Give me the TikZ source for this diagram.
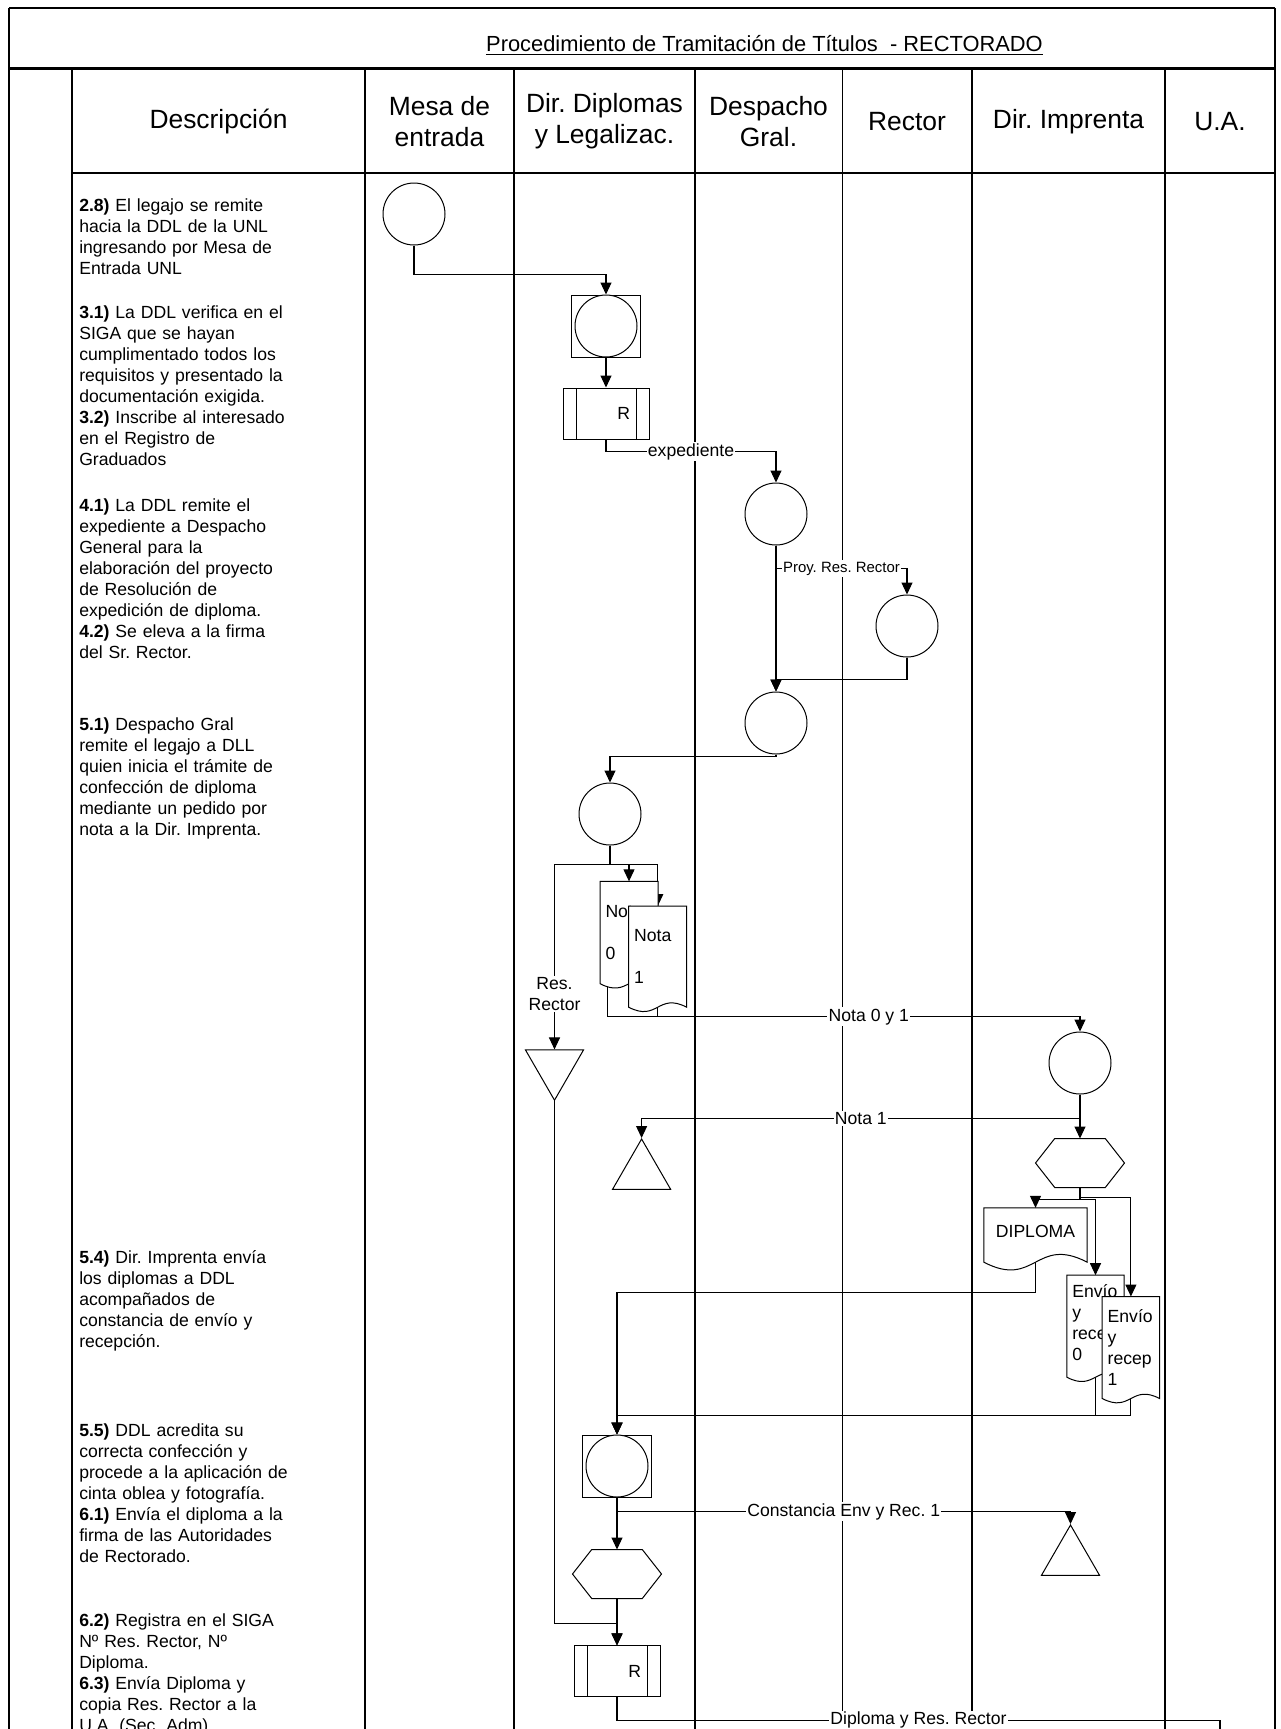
\documentclass[tikz,border=0pt]{standalone}
\usepackage{fontspec}
\setmainfont{Liberation Sans}
\usetikzlibrary{arrows.meta,shapes.geometric,calc}
\frenchspacing

\makeatletter
\newdimen\dsL \newdimen\dsR \newdimen\dsT \newdimen\dsB
\newdimen\dsM \newdimen\dsK \newdimen\dsP \newdimen\dsQ
\pgfdeclareshape{docshape}{
  \inheritsavedanchors[from=rectangle]
  \inheritanchorborder[from=rectangle]
  \inheritanchor[from=rectangle]{center}
  \inheritanchor[from=rectangle]{north}
  \inheritanchor[from=rectangle]{south}
  \inheritanchor[from=rectangle]{east}
  \inheritanchor[from=rectangle]{west}
  \inheritanchor[from=rectangle]{north east}
  \inheritanchor[from=rectangle]{north west}
  \inheritanchor[from=rectangle]{south east}
  \inheritanchor[from=rectangle]{south west}
  \inheritanchor[from=rectangle]{base}
  \inheritanchor[from=rectangle]{mid}
  \backgroundpath{%
    \southwest \dsL=\pgf@x \dsB=\pgf@y
    \northeast \dsR=\pgf@x \dsT=\pgf@y
    \dsK=\dsR \advance\dsK by -\dsL
    \dsM=0.5\dsK \advance\dsM by \dsL
    \dsK=0.26\dsK
    \dsP=\dsB \advance\dsP by -\dsK
    \dsQ=\dsB \advance\dsQ by \dsK
    \pgfpathmoveto{\pgfqpoint{\dsL}{\dsT}}%
    \pgfpathlineto{\pgfqpoint{\dsL}{\dsB}}%
    \pgfpathcurveto{\pgfqpoint{\dsM}{\dsP}}{\pgfqpoint{\dsM}{\dsQ}}{\pgfqpoint{\dsR}{\dsB}}%
    \pgfpathlineto{\pgfqpoint{\dsR}{\dsT}}%
    \pgfpathclose
  }
}
\pgfdeclareshape{hexshape}{
  \inheritsavedanchors[from=rectangle]
  \inheritanchorborder[from=rectangle]
  \inheritanchor[from=rectangle]{center}
  \inheritanchor[from=rectangle]{north}
  \inheritanchor[from=rectangle]{south}
  \inheritanchor[from=rectangle]{east}
  \inheritanchor[from=rectangle]{west}
  \inheritanchor[from=rectangle]{north east}
  \inheritanchor[from=rectangle]{north west}
  \inheritanchor[from=rectangle]{south east}
  \inheritanchor[from=rectangle]{south west}
  \inheritanchor[from=rectangle]{base}
  \inheritanchor[from=rectangle]{mid}
  \backgroundpath{%
    \southwest \dsL=\pgf@x \dsB=\pgf@y
    \northeast \dsR=\pgf@x \dsT=\pgf@y
    \dsK=\dsR \advance\dsK by -\dsL \dsK=0.216\dsK
    \dsM=\dsT \advance\dsM by \dsB \dsM=0.5\dsM
    \dsP=\dsL \advance\dsP by \dsK
    \dsQ=\dsR \advance\dsQ by -\dsK
    \pgfpathmoveto{\pgfqpoint{\dsL}{\dsM}}%
    \pgfpathlineto{\pgfqpoint{\dsP}{\dsT}}%
    \pgfpathlineto{\pgfqpoint{\dsQ}{\dsT}}%
    \pgfpathlineto{\pgfqpoint{\dsR}{\dsM}}%
    \pgfpathlineto{\pgfqpoint{\dsQ}{\dsB}}%
    \pgfpathlineto{\pgfqpoint{\dsP}{\dsB}}%
    \pgfpathclose
  }
}
\makeatother

\newcommand\fdesc{\fontsize{13.2pt}{15.75pt}\selectfont}
\newcommand\fnode{\fontsize{13.2pt}{15.75pt}\selectfont}
\newcommand\fhead{\fontsize{19.8pt}{23.2pt}\selectfont}
\newcommand\ftitle{\fontsize{16.4pt}{19pt}\selectfont}
\newcommand\fsmall{\fontsize{11.2pt}{13pt}\selectfont}

\pgfdeclarelayer{grid}
\pgfdeclarelayer{bg}
\pgfsetlayers{grid,bg,main}

\tikzset{
  ln/.style={line width=0.8pt},
  arr/.style={ln, -{Triangle[length=9pt,width=8.25pt]}},
  circ/.style={circle, draw, fill=white, minimum size=46.5pt, inner sep=0pt, line width=0.75pt},
  sqbox/.style={rectangle, draw, fill=white, minimum width=51.5pt, minimum height=46.5pt, inner sep=0pt, line width=0.75pt},
  rbox/.style={rectangle, draw, fill=white, minimum width=64.5pt, minimum height=38.25pt,
    text width=36pt, inner xsep=14.25pt, inner ysep=0pt, align=right, font=\fnode, line width=0.75pt,
    path picture={
      \draw[line width=0.75pt] ([xshift=9.75pt]path picture bounding box.north west) -- ([xshift=9.75pt]path picture bounding box.south west);
      \draw[line width=0.75pt] ([xshift=-9.75pt]path picture bounding box.north east) -- ([xshift=-9.75pt]path picture bounding box.south east);}},
  docnode/.style={docshape, draw, fill=white, inner xsep=3.75pt, inner ysep=0pt, align=left, font=\fnode, line width=0.75pt},
  tri/.style={regular polygon, regular polygon sides=3, draw, fill=white, minimum size=50.25pt, inner sep=0pt, line width=0.75pt},
  hexnode/.style={hexshape, draw, fill=white, minimum width=66pt, minimum height=36pt, inner sep=0pt, line width=0.75pt},
  lbl/.style={fill=white, inner xsep=1pt, inner ysep=1pt, font=\fnode},
  desc/.style={anchor=north west, inner sep=0pt, text width=210pt, align=left, font=\fdesc},
  head/.style={align=center, font=\fhead, inner sep=0pt},
  col/.style={line width=1.1pt},
}

\begin{document}
\begin{tikzpicture}[x=0.75pt,y=-0.75pt]
\useasboundingbox (0,0) rectangle (1281,1729);

% ---------- frame ----------
\begin{pgfonlayer}{grid}
\draw[line width=1.4pt] (9,8) -- (1275,8);
\draw[col] (9,8) -- (9,1729);
\draw[col] (1275,8) -- (1275,1729);
\draw[line width=1.6pt] (9,68.5) -- (1275,68.5);
\draw[line width=1.6pt] (72,173) -- (1275,173);
\foreach \x in {72,365,514,695,972,1165} \draw[col] (\x,68.5) -- (\x,1729);
\draw[line width=0.75pt] (842,68.5) -- (842,1729);
\end{pgfonlayer}

% ---------- title and headers ----------
\node[font=\ftitle, inner sep=0pt, anchor=base] (title) at (764.5,51) {Procedimiento de Tramitación de Títulos~ - RECTORADO};
\draw[line width=0.75pt] ([yshift=-2.5pt]title.base west) -- ([yshift=-2.5pt]title.base east);

\node[head] (hdesc) at (218.5,121.5) {Descripción};
\node[head] (hmesa) at (439.5,121.5) {Mesa de\\entrada};
\node[head] (hddl)  at (604.5,121.5) {Dir. Diplomas\\y Legalizac.};
\node[head] (hdesp) at (768.5,121.5) {Despacho\\Gral.};
\node[head] (hrect) at (907,121.5) {Rector};
\node[head] (himp)  at (1068.5,121.5) {Dir. Imprenta};
\node[head] (hua)   at (1220,121.5) {U.A.};

% ---------- description ----------
\node[desc] (d28) at (79,196.7) {\strut\textbf{2.8)} El legajo se remite\\hacia la DDL de la UNL\\ingresando por Mesa de\\Entrada UNL};
\node[desc] (d31) at (79,303.4) {\strut\textbf{3.1)} La DDL verifica en el\\SIGA que se hayan\\cumplimentado todos los\\requisitos y presentado la\\documentación exigida.\\\textbf{3.2)} Inscribe al interesado\\en el Registro de\\Graduados};
\node[desc] (d41) at (79,496.7) {\strut\textbf{4.1)} La DDL remite el\\expediente a Despacho\\General para la\\elaboración del proyecto\\de Resolución de\\expedición de diploma.\\\textbf{4.2)} Se eleva a la firma\\del Sr. Rector.};
\node[desc] (d51) at (79,716) {\strut\textbf{5.1)} Despacho Gral\\remite el legajo a DLL\\quien inicia el trámite de\\confección de diploma\\mediante un pedido por\\nota a la Dir. Imprenta.};
\node[desc] (d54) at (79,1249) {\strut\textbf{5.4)} Dir. Imprenta envía\\los diplomas a DDL\\acompañados de\\constancia de envío y\\recepción.};
\node[desc] (d55) at (79,1421.7) {\strut\textbf{5.5)} DDL acredita su\\correcta confección y\\procede a la aplicación de\\cinta oblea y fotografía.\\\textbf{6.1)} Envía el diploma a la\\firma de las Autoridades\\de Rectorado.};
\node[desc] (d62) at (79,1611.5) {\strut\textbf{6.2)} Registra en el SIGA\\Nº Res. Rector, Nº\\Diploma.\\\textbf{6.3)} Envía Diploma y\\copia Res. Rector a la\\U.A. (Sec. Adm).};

% ---------- flow nodes ----------
\node[circ] (c1) at (414,214) {};
\node[sqbox] (sq1) at (606,326) {};
\node[circ] (sq1c) at (606,326) {};
\node[rbox] (R1) at (606,413.5) {R};
\node[circ] (c3) at (776,514) {};
\node[circ] (c4) at (907,626) {};
\node[circ] (c5) at (776,723) {};
\node[circ] (c6) at (610,814) {};
\node[docnode, minimum width=42.75pt, minimum height=76pt, text width=35.25pt] (nota0) at (629,932.5) {Nota\\[15.75pt]0};
\node[docnode, minimum width=42.75pt, minimum height=75pt, text width=35.25pt] (nota1) at (657.7,956.7) {Nota\\[15.75pt]1};
\node[tri, shape border rotate=180] (tri1) at (554.5,1066.7) {};
\node[circ] (c7) at (1080,1063) {};
\node[tri] (tri2) at (641.6,1172.5) {};
\node[hexnode] (hex1) at (1080,1163) {};
\node[docnode, minimum width=76.8pt, minimum height=40pt, text width=69.3pt, align=center, text depth=6pt] (diploma) at (1035.5,1235) {DIPLOMA};
\node[docnode, minimum width=42.3pt, minimum height=75.75pt, text width=34.8pt] (envio0) at (1095.5,1326.2) {Envío\\y\\recep\\0\\[-9.75pt]\mbox{}};
\node[docnode, minimum width=42.3pt, minimum height=75.75pt, text width=34.8pt] (envio1) at (1130.9,1347.5) {Envío\\y\\recep\\1};
\node[sqbox] (sq2) at (617,1466) {};
\node[circ] (sq2c) at (617,1466) {};
\node[tri] (tri3) at (1070.5,1558.5) {};
\node[hexnode] (hex2) at (617,1574) {};
\node[rbox] (R2) at (617,1671.4) {R};
\coordinate (ua) at (1220,1750);
\coordinate (j1) at ($(nota1.south)+(0,9.5)$);

% ---------- connectors ----------
\begin{pgfonlayer}{bg}
\draw[arr] (c1.south) -- ++(0,29) -| (sq1.north);
\draw[arr] (sq1.south) -- (R1.north);
\draw[arr] (R1.south) -- ++(0,12) -| node[pos=0.25,lbl]{expediente} (c3.north);
\draw[arr] (c3.south) -- (c5.north);
\draw[arr] (c3.south) -- ++(0,23) -| node[pos=0.25,lbl,font=\fsmall,inner xsep=0.5pt]{Proy. Res. Rector} (c4.north);
\draw[arr] (c4.south) -- ++(0,22) -| (c5.north);
\draw[arr] (c5.south) -- ++(0,2) -| (c6.north);
\draw[arr] (c6.south) -- ++(0,19) -| (nota0.north);
\draw[arr] (c6.south) -- ++(0,19) -| (nota1.north);
\draw[arr] (c6.south) -- ++(0,19) -| node[pos=0.85,lbl,align=center]{Res.\\Rector} (tri1.north);
\draw[ln] ($(nota0.south west)+(7.5,0)$) |- (j1);
\draw[arr] (nota1.south) -- (j1) -| node[pos=0.25,lbl]{Nota 0 y 1} (c7.north);
\draw[arr] (c7.south) -- (hex1.north);
\draw[arr] (c7.south) -- ++(0,24) -| node[pos=0.25,lbl]{Nota 1} (tri2.north);
\draw[arr] (hex1.south) -- ++(0,10) -| (envio1.north);
\draw[arr] (hex1.south) -- ++(0,12) -| (diploma.north);
\draw[arr] (hex1.south) -- ++(0,12) -| (envio0.north);
\draw[arr] (diploma.south) -- ++(0,30.5) -| (sq2.north);
\draw[arr] (envio0.south) -- ++(0,38.5) -| (sq2.north);
\draw[arr] (envio1.south) -- ++(0,17) -| (sq2.north);
\draw[arr] (sq2.south) -- (hex2.north);
\draw[arr] (sq2.south) -- ++(0,14) -| node[pos=0.25,lbl]{Constancia Env y Rec. 1} (tri3.north);
\draw[arr] (hex2.south) -- (R2.north);
\draw[arr] (tri1.south) -- ++(0,522.5) -| (R2.north);
\draw[arr] (R2.south) -- ++(0,23) -| node[pos=0.25,lbl]{Diploma y Res. Rector} (ua);
\end{pgfonlayer}
\end{tikzpicture}
\end{document}
